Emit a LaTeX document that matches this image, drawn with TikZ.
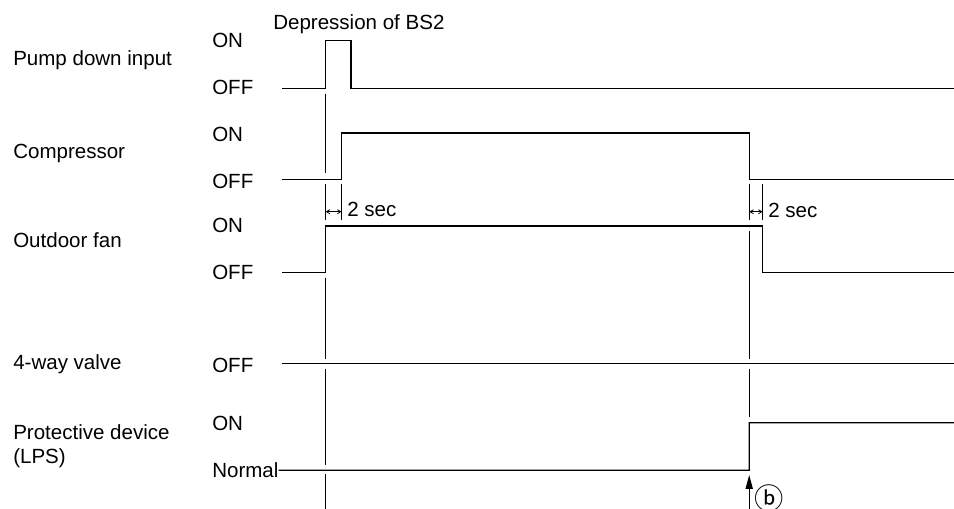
\documentclass[tikz,border=0pt]{standalone}
\usepackage{fontspec}
\setmainfont{Liberation Sans}
\newfontfamily\encfont{Noto Sans CJK JP}
\usetikzlibrary{arrows.meta}
\begin{document}
\begin{tikzpicture}[x=0.75pt,y=-0.75pt,
  lbl/.style={font=\fontsize{15.4}{18}\selectfont, inner sep=0pt, anchor=base west},
  wave/.style={draw=black, line width=0.95pt, line join=miter},
  guide/.style={draw=black, line width=0.95pt},
  dimarrow/.style={{Straight Barb[length=2.6pt,width=3pt]}-{Straight Barb[length=2.6pt,width=3pt]}, line width=0.6pt},
  evarrow/.style={-{Triangle[length=10.5pt,width=5.4pt]}, line width=0.95pt}]
\useasboundingbox (0,0) rectangle (954,509);

% signal names
\node[lbl] (pdi) at (13,65.7) {Pump down input};
\node[lbl] (cmp) at (13,159) {Compressor};
\node[lbl] (ofn) at (13,247.3) {Outdoor fan};
\node[lbl] (fwv) at (13,369.3) {4-way valve};
\node[lbl] (pd1) at (13,440) {Protective device};
\node[lbl] (pd2) at (13,463.3) {(LPS)};

% levels
\node[lbl] (on1)  at (212,47.3)  {ON};
\node[lbl] (off1) at (212,95)    {OFF};
\node[lbl] (on2)  at (212,141.3) {ON};
\node[lbl] (off2) at (212,188.3) {OFF};
\node[lbl] (on3)  at (212,232.3) {ON};
\node[lbl] (off3) at (212,280)   {OFF};
\node[lbl] (off4) at (212,372.7) {OFF};
\node[lbl] (on5)  at (212,431)   {ON};
\node[lbl] (nrm)  at (212,477.7) {Normal};

% annotations
\node[lbl] (bs2)  at (273,29.5)  {Depression of BS2};
\node[lbl] (sec1) at (347,217)   {2 sec};
\node[lbl] (sec2) at (768,217.5) {2 sec};
\node[font=\fontsize{22}{24}\encfont, inner sep=0pt] (evb) at (769.5,498) {ⓑ};

% waveforms
\draw[wave] (282,88.3) -- (325.6,88.3) -- (325.6,40.7) -- (351,40.7) -- (351,88.3) -- (954,88.3);
\draw[wave] (282,179.6) -- (341.7,179.6) -- (341.7,133) -- (749.2,133) -- (749.2,179.6) -- (954,179.6);
\draw[wave] (282,272.7) -- (325.6,272.7) -- (325.6,226) -- (762.7,226) -- (762.7,272.7) -- (954,272.7);
\draw[wave] (282,363.7) -- (954,363.7);
\draw[wave] (nrm.base east) ++(0,-7.4) coordinate (nrmend) -- (749.2,470.3) -- (749.2,422.7) -- (954,422.7);

% guide lines at first event
\draw[guide] (325.6,94) -- (325.6,173);
\draw[guide] (325.6,184) -- (325.6,220);
\draw[guide] (325.6,277.7) -- (325.6,359.3);
\draw[guide] (325.6,369) -- (325.6,465);
\draw[guide] (325.6,474.5) -- (325.6,509);
\draw[guide] (341.7,184) -- (341.7,220);

% guide lines at second event
\draw[guide] (749.2,184) -- (749.2,220);
\draw[guide] (749.2,231) -- (749.2,359);
\draw[guide] (749.2,369) -- (749.2,416.7);
\draw[guide] (762.7,184) -- (762.7,220);

% 2 sec dimension arrows
\coordinate (d1a) at (325.6,211.7);
\coordinate (d1b) at (341.7,211.7);
\coordinate (d2a) at (749.2,211.7);
\coordinate (d2b) at (762.7,211.7);
\draw[dimarrow] (d1a) -- (d1b);
\draw[dimarrow] (d2a) -- (d2b);

% event arrow
\coordinate (evtail) at (749.2,509);
\coordinate (evtip) at (749.2,475);
\draw[evarrow] (evtail) -- (evtip);
\end{tikzpicture}
\end{document}
